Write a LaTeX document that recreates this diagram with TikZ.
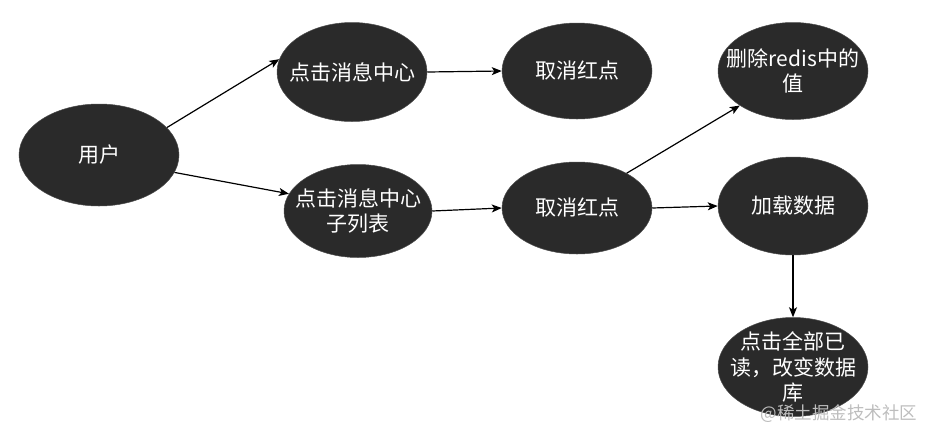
\documentclass[tikz,border=0pt]{standalone}
\usepackage{fontspec}
\setmainfont{Noto Sans CJK SC}
\usetikzlibrary{shapes.geometric,arrows.meta}
\definecolor{nodefill}{HTML}{2A2A2A}
\definecolor{wmgray}{HTML}{BDBDBD}
\tikzset{
  bubble/.style={ellipse, fill=nodefill, draw=black!70, line width=0.5pt,
    inner xsep=-14pt, inner ysep=-8pt,
    minimum width=150pt, minimum height=97pt, text=white, align=center,
    font=\fontsize{21}{25.5}\selectfont},
  link/.style={line width=1.2pt, -{Stealth[length=10pt,width=8pt,inset=2.5pt]}}
}
\begin{document}
\begin{tikzpicture}[x=1pt,y=-1pt]
\useasboundingbox (0,0) rectangle (935,440);
\node[bubble, minimum width=160pt, minimum height=102pt] (u) at (99,155) {用户};
\node[bubble, minimum height=99pt] (a) at (352,72) {点击消息中心};
\node[bubble, minimum height=96pt] (b) at (577,71) {取消红点};
\node[bubble, minimum width=148pt, minimum height=93pt] (s) at (358,211) {点击消息中心\\子列表};
\node[bubble, minimum height=92pt] (m) at (577,208) {取消红点};
\node[bubble] (r) at (793,71) {删除redis中的\\值};
\node[bubble, minimum height=98pt] (l) at (793,206) {加载数据};
\node[bubble, minimum height=99pt] (f) at (793,367) {点击全部已\\读，改变数据\\库};
\node[text=wmgray, font=\fontsize{17.5}{20}\selectfont, inner sep=0pt] (wm) at (839,414) {@稀土掘金技术社区};
\draw[link] (u.22) -- (a.170);
\draw[link] (u.-13) -- (s.166);
\draw[link] (a.east) -- (b.west);
\draw[link] (s.east) -- (m.west);
\draw[link] (m.35) -- (r.213);
\draw[link] (m.east) -- (l.west);
\draw[link] (l.south) -- (f.north);
\end{tikzpicture}
\end{document}
